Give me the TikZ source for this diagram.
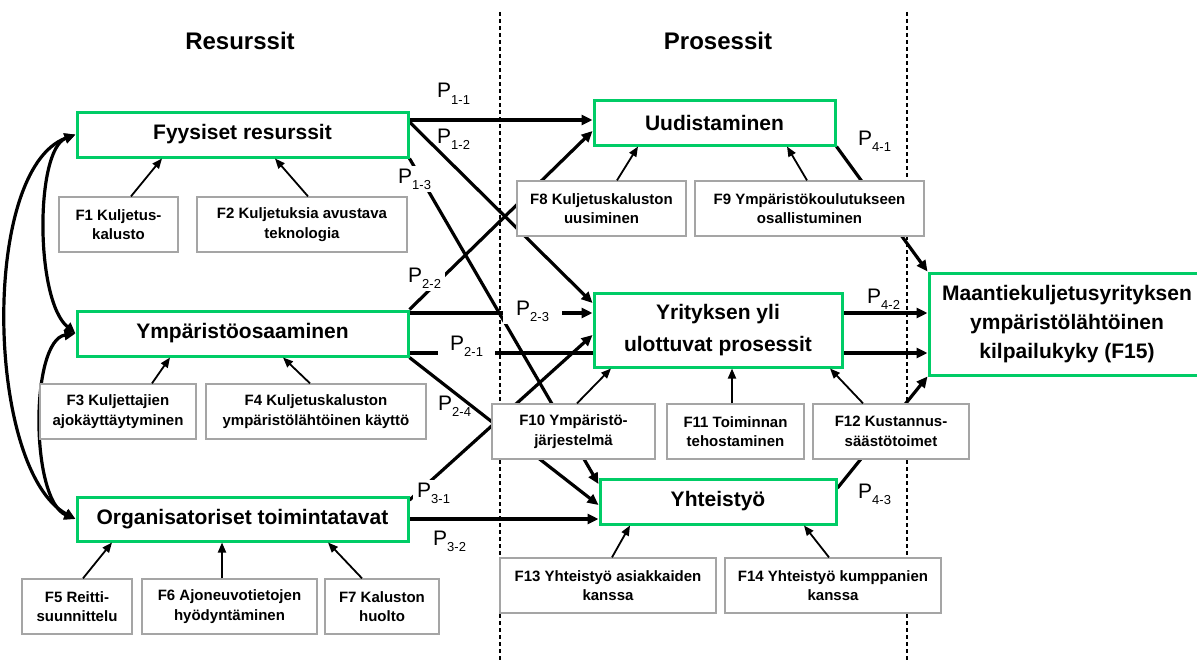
\documentclass[tikz,border=0pt]{standalone}
\usepackage{fontspec}
\setmainfont{Liberation Sans}
\usetikzlibrary{arrows.meta,backgrounds}
\definecolor{grn}{RGB}{0,204,102}
\definecolor{gry}{RGB}{165,165,165}
\newcommand{\PL}[1]{P\raisebox{-6pt}{\fontsize{13}{13}\selectfont #1}}
\begin{document}
\begin{tikzpicture}[x=1pt,y=-1pt,
 gbox/.style={draw=grn, line width=3pt, fill=white, font=\fontsize{21}{29}\selectfont\bfseries, align=center, inner sep=0pt},
 fbox/.style={draw=gry, line width=1.3pt, fill=white, font=\fontsize{15}{19.5}\selectfont\bfseries, align=center, inner sep=0pt, minimum height=55pt},
 thk/.style={line width=3.2pt, -{Triangle[length=11pt,width=10pt]}},
 thkn/.style={line width=3.2pt},
 thn/.style={line width=1.8pt, -{Triangle[length=10pt,width=8pt]}},
 curv/.style={line width=3.2pt, {Triangle[length=11pt,width=10pt]}-{Triangle[length=11pt,width=10pt]}},
 plab/.style={font=\fontsize{21}{21}\selectfont, inner sep=0pt, anchor=base west},
 plabw/.style={plab, fill=white, inner ysep=3pt},
 dsh/.style={line width=1.1pt, dash pattern=on 4pt off 3pt},
 hd/.style={font=\fontsize{24}{24}\selectfont\bfseries}
]
\useasboundingbox (0,0) rectangle (1197,661);

% headings
\node[hd] (hres) at (240,41) {Resurssit};
\node[hd] (hpro) at (718,41) {Prosessit};

% resource boxes
\node[gbox, minimum width=331pt, minimum height=45pt] (fys) at (242.5,134.5) {Fyysiset resurssit};
\node[gbox, minimum width=331pt, minimum height=45pt] (ymp) at (242.5,333.5) {Ympäristöosaaminen};
\node[gbox, minimum width=331pt, minimum height=44pt] (org) at (242.5,519) {Organisatoriset toimintatavat};

\node[fbox, minimum width=119pt] (f1) at (118.5,224.5) {F1 Kuljetus-\\kalusto};
\node[fbox, minimum width=210pt] (f2) at (302,224.5) {F2 Kuljetuksia avustava\\teknologia};
\node[fbox, minimum width=156pt] (f3) at (118,411.5) {F3 Kuljettajien\\ajokäyttäytyminen};
\node[fbox, minimum width=220pt] (f4) at (316,411.5) {F4 Kuljetuskaluston\\ympäristölähtöinen käyttö};
\node[fbox, minimum width=110pt] (f5) at (77,606.5) {F5 Reitti-\\suunnittelu};
\node[fbox, minimum width=175pt] (f6) at (229.5,606.5) {F6 Ajoneuvotietojen\\hyödyntäminen};
\node[fbox, minimum width=114pt] (f7) at (382,606.5) {F7 Kaluston\\huolto};

% process boxes
\node[gbox, minimum width=241pt, minimum height=45pt] (uud) at (714.5,122.5) {Uudistaminen};
\node[gbox, minimum width=248pt, minimum height=74pt] (yri) at (718,330) {Yrityksen yli\\[3pt]ulottuvat prosessit};
\node[gbox, minimum width=236pt, minimum height=45pt] (yht) at (718,501.5) {Yhteistyö};

\node[fbox, minimum width=169pt] (f8) at (601.5,208.5) {F8 Kuljetuskaluston\\uusiminen};
\node[fbox, minimum width=229pt] (f9) at (809.5,208.5) {F9 Ympäristökoulutukseen\\osallistuminen};
\node[fbox, minimum width=163pt] (f10) at (573.5,431.5) {F10 Ympäristö-\\järjestelmä};
\node[fbox, minimum width=137pt] (f11) at (735.5,431.5) {F11 Toiminnan\\tehostaminen};
\node[fbox, minimum width=156pt] (f12) at (891,431.5) {F12 Kustannus-\\säästötoimet};
\node[fbox, minimum width=216pt] (f13) at (608,585.5) {F13 Yhteistyö asiakkaiden\\kanssa};
\node[fbox, minimum width=216pt] (f14) at (833,585.5) {F14 Yhteistyö kumppanien\\kanssa};

% outcome
\node[gbox, minimum width=276pt, minimum height=102pt] (maa) at (1067,324) {Maantiekuljetusyrityksen\\ympäristölähtöinen\\kilpailukyky (F15)};

\begin{scope}[on background layer]
 \coordinate (d1t) at (500,12); \coordinate (d1b) at (500,661);
 \coordinate (d2t) at (907,12); \coordinate (d2b) at (907,661);
 \draw[dsh] (d1t) -- (d1b);
 \draw[dsh] (d2t) -- (d2b);
 % P1
 \draw[thk] ([yshift=14.5pt]fys.east) -- ([yshift=2.5pt]uud.west);
 \draw[thk] ([yshift=12.5pt]fys.east) -- ([yshift=27pt]yri.west);
 \draw[thk] (fys.south east) -- ([yshift=17.5pt]yht.west);
 % P2
 \draw[thk] (ymp.north east) -- ([yshift=-8.5pt]uud.west);
 \draw[thk] ([yshift=20.5pt]ymp.east) -- ([yshift=17pt]yri.west);
 \draw[thkn] ([yshift=-19.5pt]ymp.east) -- ([yshift=-23pt]yri.west);
 \draw[thk] (ymp.south east) -- ([yshift=-3.5pt]yht.west);
 % P3
 \draw[thk] ([yshift=19pt]org.east) -- ([yshift=-5pt]yri.west);
 \draw[thk] (org.east) -- ([yshift=-17.5pt]yht.west);
 % P4
 \draw[thk] (uud.south east) -- (maa.north west);
 \draw[thk] ([yshift=17pt]yri.east) -- ([yshift=11pt]maa.west);
 \draw[thk] ([yshift=-23pt]yri.east) -- ([yshift=-29pt]maa.west);
 \draw[thk] ([yshift=13.5pt]yht.east) -- (maa.south west);
 % left curves
 \draw[curv] (fys.west) .. controls (35,150) and (35,300) .. (ymp.west);
 \draw[curv] (fys.west) .. controls (-20,170) and (-14,470) .. (org.west);
 \draw[curv] (ymp.west) .. controls (30,340) and (30,500) .. (org.west);
\end{scope}

% factor arrows
\draw[thn] ([xshift=12.5pt]f1.north) -- ([xshift=-80.5pt]fys.south);
\draw[thn] ([xshift=6pt]f2.north) -- ([xshift=32.5pt]fys.south);
\draw[thn] ([xshift=34pt]f3.north) -- ([xshift=-72.5pt]ymp.south);
\draw[thn] ([xshift=-6pt]f4.north) -- ([xshift=40.5pt]ymp.south);
\draw[thn] ([xshift=6pt]f5.north) -- ([xshift=-130.5pt]org.south);
\draw[thn] ([xshift=-7.5pt]f6.north) -- ([xshift=-20.5pt]org.south);
\draw[thn] ([xshift=-20pt]f7.north) -- ([xshift=85.5pt]org.south);
\draw[thn] ([xshift=15.5pt]f8.north) -- ([xshift=-76.5pt]uud.south);
\draw[thn] ([xshift=-2.5pt]f9.north) -- ([xshift=72.5pt]uud.south);
\draw[thn] ([xshift=3.5pt]f10.north) -- ([xshift=-107pt]yri.south);
\draw[thn] ([xshift=-3.5pt]f11.north) -- ([xshift=14pt]yri.south);
\draw[thn] ([xshift=-28pt]f12.north) -- ([xshift=112pt]yri.south);
\draw[thn] ([xshift=4pt]f13.north) -- ([xshift=-88pt]yht.south);
\draw[thn] ([xshift=-4pt]f14.north) -- ([xshift=86pt]yht.south);

% path labels
\node[plab] (p11) at (437,98) {\PL{1-1}};
\node[plab] (p12) at (437,143) {\PL{1-2}};
\node[plabw, inner xsep=3pt] (p13) at (395,183) {\PL{1-3}};
\node[plabw, inner xsep=4pt] (p22) at (404,282) {\PL{2-2}};
\node[plabw, inner xsep=13pt] (p23) at (503,315) {\PL{2-3}};
\node[plabw, inner xsep=12pt] (p21) at (438,350) {\PL{2-1}};
\node[plab] (p24) at (438,410) {\PL{2-4}};
\node[plabw, inner xsep=4pt] (p31) at (413,497) {\PL{3-1}};
\node[plab] (p32) at (433,545) {\PL{3-2}};
\node[plab] (p41) at (858,145) {\PL{4-1}};
\node[plab] (p42) at (867,303) {\PL{4-2}};
\node[plab] (p43) at (858,498) {\PL{4-3}};
\end{tikzpicture}
\end{document}
